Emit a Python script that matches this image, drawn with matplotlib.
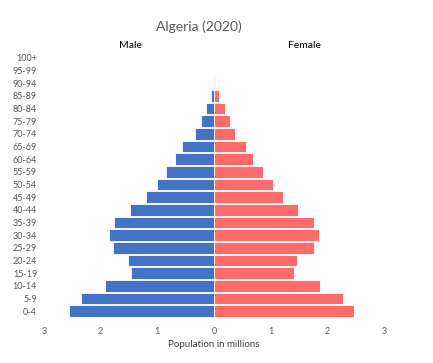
import numpy as np
import matplotlib
matplotlib.use('Agg')
import matplotlib.pyplot as plt

plt.rcParams['font.family'] = ['Lato', 'DejaVu Sans']

ages = ['0-4', '5-9', '10-14', '15-19', '20-24', '25-29', '30-34', '35-39',
        '40-44', '45-49', '50-54', '55-59', '60-64', '65-69', '70-74',
        '75-79', '80-84', '85-89', '90-94', '95-99', '100+']
male = [2.56, 2.35, 1.93, 1.47, 1.51, 1.79, 1.86, 1.77, 1.49, 1.20, 1.01,
        0.85, 0.69, 0.57, 0.34, 0.235, 0.15, 0.06, 0.005, 0.0, 0.0]
female = [2.47, 2.27, 1.87, 1.42, 1.46, 1.76, 1.85, 1.76, 1.49, 1.21, 1.04,
          0.86, 0.68, 0.56, 0.37, 0.28, 0.19, 0.08, 0.02, 0.0, 0.0]

blue = '#4472C4'
red = '#FF6B6B'
grey = '#595959'

fig = plt.figure(figsize=(4.33, 3.63), dpi=100)
ax = fig.add_axes([44/433, 1-317.5/363, 340/433, 266/363])

y = np.arange(len(ages))
ax.barh(y, [-m for m in male], height=0.92, color=blue, edgecolor='white', linewidth=0.6)
ax.barh(y, female, height=0.92, color=red, edgecolor='white', linewidth=0.6)

ax.set_xlim(-3, 3)
ax.set_ylim(-0.5, 20.5)
ax.set_yticks(y)
ax.set_yticklabels(ages)
ax.set_xticks([-3, -2, -1, 0, 1, 2, 3])
ax.set_xticklabels(['3', '2', '1', '0', '1', '2', '3'])
ax.tick_params(length=0, labelsize=6.5, colors=grey)
ax.tick_params(axis='y', pad=5)
ax.tick_params(axis='x', pad=7)
for s in ax.spines.values():
    s.set_visible(False)

ax.set_xlabel('Population in millions', fontsize=7, color='#404040', labelpad=3)

fig.text(199/433, 1-27/363, 'Algeria (2020)', ha='center', va='center', fontsize=10, color=grey)
fig.text(130/433, 1-46/363, 'Male', ha='center', va='center', fontsize=7.5, color='black')
fig.text(304/433, 1-46/363, 'Female', ha='center', va='center', fontsize=7.5, color='black')

fig.savefig('out.png', dpi=100)
